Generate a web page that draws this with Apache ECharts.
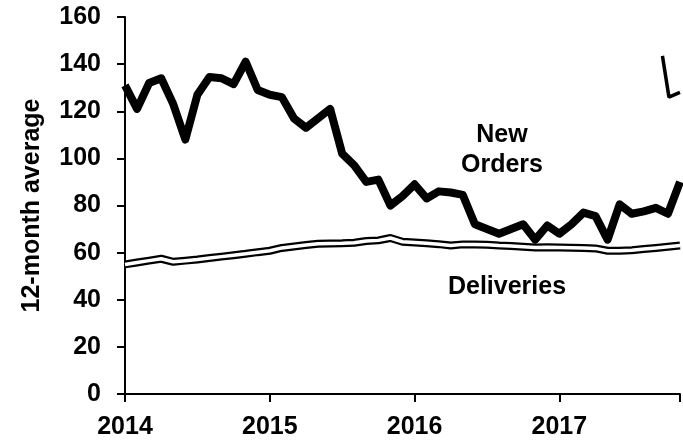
<!DOCTYPE html>
<html>
<head>
<meta charset="utf-8">
<script src="https://cdn.jsdelivr.net/npm/echarts@6/dist/echarts.min.js"></script>
<style>html,body{margin:0;padding:0;background:#fff;}#c{width:683px;height:440px;}</style>
</head>
<body>
<div id="c"></div>
<script>
// Monthly observations, Jan 2014 .. Nov 2017
var startYear = 2014;
var newOrders = [131,121,132,134,123,108,127,134.5,134,131.5,141,129,
                 127,126,117,113,117,121,102,97,90,91,80,84,
                 89,83,86,85.5,84.5,72,70,68,70,72,65.5,71.5,
                 68,72,77,75.5,65.5,80.5,76.5,77.5,79,76.5,90];
var deliveries = [55,55.8,56.6,57.4,56.1,56.6,57.1,57.7,58.3,58.9,59.5,60.2,
                  60.8,62,62.6,63.2,63.8,63.9,64,64.2,64.9,65.2,66.2,64.6,
                  64.3,64,63.6,63,63.5,63.5,63.3,63,62.8,62.5,62.2,62.3,
                  62.2,62.1,62,61.8,60.8,60.8,61,61.5,62,62.5,63];
// stray fragment at top right (x in decimal years)
var fragmentX = [2017.712, 2017.757, 2017.833];
var fragmentY = [143.5, 126, 128];
var yearTicks = [2014, 2015, 2016, 2017];

function monthly(vals){ return vals.map(function(v,i){ return [startYear + i/12, v]; }); }
var fragment = fragmentX.map(function(x,i){ return [x, fragmentY[i]]; });

var font = "'Liberation Sans', Arial, sans-serif";
var chart = echarts.init(document.getElementById('c'));
chart.setOption({
  animation:false,
  backgroundColor:'#fff',
  grid:{left:125, right:0, top:17, bottom:46, containLabel:false},
  xAxis:{
    type:'value', min:2014, max:startYear + (newOrders.length-1)/12, interval:1,
    axisLine:{lineStyle:{color:'#000', width:2}},
    axisTick:{show:true, length:8, lineStyle:{color:'#000', width:2}},
    axisLabel:{color:'#000', fontSize:25, fontWeight:'bold', fontFamily:font, margin:21,
      formatter:function(v){ return yearTicks.indexOf(v) >= 0 ? String(v) : ''; }},
    splitLine:{show:false}
  },
  yAxis:{
    type:'value', min:0, max:160, interval:20,
    name:'12-month average', nameLocation:'middle', nameGap:80, nameRotate:90,
    nameTextStyle:{color:'#000', fontSize:25, fontWeight:'bold', fontFamily:font},
    axisLine:{show:true, lineStyle:{color:'#000', width:2}},
    axisTick:{show:true, length:8, lineStyle:{color:'#000', width:2}},
    axisLabel:{color:'#000', fontSize:25, fontWeight:'bold', fontFamily:font, margin:24},
    splitLine:{show:false}
  },
  series:[
    {type:'line', data:monthly(deliveries), symbol:'none', lineStyle:{color:'#000', width:8}, z:2},
    {type:'line', data:monthly(deliveries), symbol:'none', lineStyle:{color:'#fff', width:3.5}, z:3},
    {type:'line', data:monthly(newOrders), symbol:'none', lineStyle:{color:'#000', width:8, join:'round'}, z:4},
    {type:'line', data:fragment, symbol:'none', lineStyle:{color:'#000', width:3.5}, z:4}
  ],
  graphic:[
    {type:'text', x:502, y:135, style:{text:'New', fill:'#000', font:'bold 25px ' + font, align:'center', verticalAlign:'middle'}},
    {type:'text', x:502, y:165, style:{text:'Orders', fill:'#000', font:'bold 25px ' + font, align:'center', verticalAlign:'middle'}},
    {type:'text', x:507, y:287, style:{text:'Deliveries', fill:'#000', font:'bold 25px ' + font, align:'center', verticalAlign:'middle'}}
  ]
});
</script>
</body>
</html>
